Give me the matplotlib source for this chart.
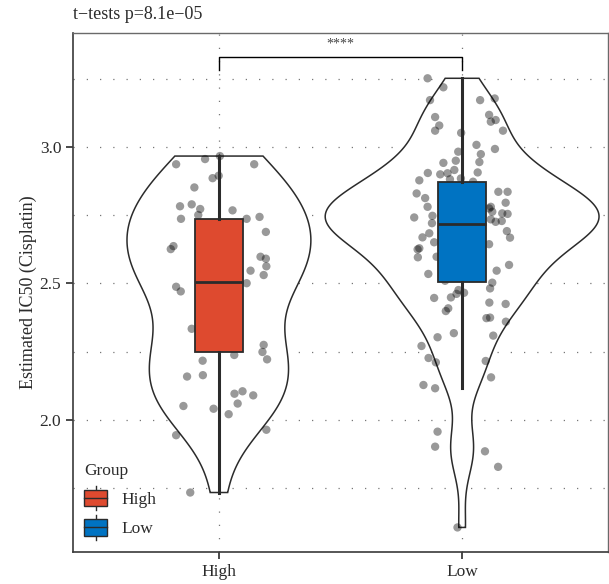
import numpy as np
import matplotlib
matplotlib.use("Agg")
import matplotlib.pyplot as plt
from matplotlib.patches import Rectangle, Patch
from matplotlib.lines import Line2D
from matplotlib.legend_handler import HandlerBase

plt.rcParams['font.family'] = ['Liberation Serif', 'DejaVu Serif']

# grupos
grupos = ['High', 'Low']
colores = ['#DE4A2F', '#0073C2']

# valores IC50 (visibles + los tapados por la caja)
high_vals = [2.937, 2.956, 2.967, 2.937, 2.886, 2.895, 2.852, 2.783, 2.790, 2.773,
             2.751, 2.737, 2.768, 2.737, 2.744, 2.689, 2.637, 2.626, 2.598, 2.591,
             2.563, 2.547, 2.531, 2.501, 2.488, 2.471, 2.334, 2.275, 2.249, 2.222,
             2.238, 2.217, 2.159, 2.164, 2.096, 2.105, 2.090, 2.060, 2.051, 2.041,
             2.021, 1.964, 1.944, 1.734,
             2.70, 2.64, 2.57, 2.52, 2.43, 2.41, 2.31, 2.27]
high_jit = [-0.176, -0.057, 0.004, 0.145, -0.026, -0.001, -0.101, -0.160, -0.112, -0.077,
            -0.085, -0.156, 0.056, 0.114, 0.167, 0.193, -0.187, -0.198, 0.171, 0.193,
            0.195, 0.130, 0.184, 0.114, -0.176, -0.157, -0.112, 0.184, 0.179, 0.198,
            0.063, -0.067, -0.131, -0.066, 0.064, 0.097, 0.141, 0.077, -0.146, -0.022,
            0.040, 0.195, -0.176, -0.118,
            0.05, -0.04, 0.02, -0.07, -0.01, 0.03, 0.06, -0.02]

low_vals = [3.252, 3.219, 3.172, 3.172, 3.178, 3.110, 3.079, 3.060, 3.118, 3.093,
            3.099, 3.060, 3.052, 3.008, 2.993, 2.983, 2.974, 2.942, 2.950, 2.945,
            2.916, 2.905, 2.900, 2.904, 2.907, 2.878, 2.882, 2.885, 2.873, 2.830,
            2.813, 2.836, 2.836, 2.796, 2.781, 2.781, 2.763, 2.742, 2.748, 2.757,
            2.755, 2.721, 2.775, 2.735, 2.726, 2.729, 2.692, 2.668, 2.684, 2.669,
            2.651, 2.644, 2.625, 2.629, 2.596, 2.598, 2.568, 2.547, 2.535, 2.503,
            2.482, 2.476, 2.466, 2.462, 2.449, 2.447, 2.430, 2.425, 2.409, 2.399,
            2.373, 2.375, 2.360, 2.318, 2.303, 2.309, 2.271, 2.227, 2.211, 2.216,
            2.156, 2.128, 2.116, 1.957, 1.902, 1.885, 1.828, 1.606,
            2.86, 2.85, 2.84, 2.82, 2.81, 2.80, 2.79, 2.77, 2.76, 2.75, 2.74, 2.73,
            2.71, 2.70, 2.69, 2.68, 2.67, 2.66, 2.65, 2.63, 2.61, 2.60, 2.58, 2.56,
            2.55, 2.53, 2.52, 2.51,
            2.78, 2.76, 2.74, 2.72]
low_jit = [-0.142, -0.077, -0.132, 0.074, 0.134, -0.111, -0.094, -0.111, 0.111, 0.118,
           0.138, 0.168, -0.004, 0.059, 0.135, -0.016, 0.077, -0.077, -0.026, 0.071,
           -0.032, -0.141, -0.090, -0.060, 0.064, -0.176, -0.050, -0.005, 0.045, -0.187,
           -0.152, 0.149, 0.187, 0.179, -0.142, 0.118, 0.124, -0.197, -0.122, 0.165,
           0.187, -0.124, 0.111, 0.118, 0.138, 0.163, 0.184, 0.197, -0.135, -0.163,
           -0.115, 0.111, -0.183, -0.176, -0.182, -0.105, 0.193, 0.142, -0.139, 0.124,
           0.115, -0.015, 0.008, -0.023, -0.046, -0.115, 0.112, 0.179, -0.057, -0.067,
           0.100, 0.115, 0.180, -0.034, -0.101, 0.128, -0.167, -0.138, -0.108, 0.097,
           0.119, -0.159, -0.111, -0.101, -0.111, 0.094, 0.148, -0.019,
           0.05, -0.04, 0.02, -0.07, 0.08, -0.01, 0.03, -0.05, 0.06, -0.02, 0.04, -0.08,
           0.01, 0.07, -0.03, 0.00, 0.05, -0.06, 0.02, -0.08, 0.07, -0.03, 0.04, -0.01,
           0.06, -0.05, 0.03, -0.07,
           -0.05, 0.06, -0.03, 0.02]

# estadisticos de la caja
q1 = [2.250, 2.505]
mediana = [2.505, 2.718]
q3 = [2.736, 2.872]
bigote_inf = [1.734, 2.116]
bigote_sup = [2.967, 3.252]

titulo = 't\u2212tests p=8.1e\u221205'
signif = '****'

EDGE = '#2b2b2b'


def kde_nrd0(x, grid):
    # densidad gaussiana con bw.nrd0 (como R)
    x = np.asarray(x)
    n = len(x)
    iqr = np.subtract(*np.percentile(x, [75, 25]))
    bw = 0.9 * min(np.std(x, ddof=1), iqr / 1.34) * n ** (-0.2)
    z = (grid[:, None] - x[None, :]) / bw
    return np.exp(-0.5 * z ** 2).sum(axis=1) / (n * bw * np.sqrt(2 * np.pi))


fig = plt.figure(figsize=(6.09, 5.84), dpi=100)
ax = fig.add_axes([0.1199, 0.0548, 0.8785, 0.8887])

datos = [high_vals, low_vals]
saltos = [high_jit, low_jit]

# violines (area, recortados al rango de los datos)
grids, dens = [], []
for v in datos:
    g = np.linspace(min(v), max(v), 512)
    grids.append(g)
    dens.append(kde_nrd0(v, g))
dmax = max(d.max() for d in dens)
for i, (g, d) in enumerate(zip(grids, dens)):
    pos = i + 1
    w = d / dmax * 0.563
    xs = np.concatenate([pos - w, (pos + w)[::-1], [pos - w[0]]])
    ys = np.concatenate([g, g[::-1], [g[0]]])
    ax.fill(xs, ys, facecolor='white', edgecolor=EDGE, lw=1.1, zorder=1)

# puntos con jitter
for i, (v, j) in enumerate(zip(datos, saltos)):
    ax.scatter(np.array(j) + i + 1, v, s=36, color='black', alpha=0.4,
               edgecolors='none', zorder=2)

# cajas
stats = []
for i in range(2):
    stats.append(dict(med=mediana[i], q1=q1[i], q3=q3[i],
                      whislo=bigote_inf[i], whishi=bigote_sup[i], fliers=[]))
bp = ax.bxp(stats, positions=[1, 2], widths=0.2, patch_artist=True,
            showcaps=False, showfliers=False,
            boxprops=dict(edgecolor=EDGE, lw=1.3),
            medianprops=dict(color=EDGE, lw=2),
            whiskerprops=dict(color=EDGE, lw=2.2), zorder=3)
for caja, c in zip(bp['boxes'], colores):
    caja.set_facecolor(c)

# corchete de significancia
yb, yl = 3.331, 3.282
ax.plot([1, 1, 2, 2], [yl, yb, yb, yl], color='black', lw=1, zorder=4)
ax.text(1.5, 3.355, signif, ha='center', va='bottom', fontsize=10, color='#444444')

ax.set_xlim(0.4, 2.6)
ax.set_ylim(1.516, 3.418)
ax.set_xticks([1, 2])
ax.set_xticklabels(grupos)
ax.set_yticks([2.0, 2.5, 3.0])
ax.set_yticks([1.75, 2.25, 2.75, 3.25], minor=True)
ax.tick_params(axis='both', which='major', labelsize=12.5, colors='#2b2b2b',
               length=5, width=1.2)
ax.tick_params(axis='y', which='minor', length=0)
ax.grid(which='both', axis='y', color='#777777', lw=0.9, linestyle=(0, (1, 9.6)))
ax.grid(which='major', axis='x', color='#777777', lw=0.9, linestyle=(0, (1, 9.6)))
ax.set_axisbelow(True)
for lado in ['top', 'right']:
    ax.spines[lado].set_color('#6a6a6a')
    ax.spines[lado].set_linewidth(1.0)
for lado in ['left', 'bottom']:
    ax.spines[lado].set_color('#3a3a3a')
    ax.spines[lado].set_linewidth(1.2)

ax.set_ylabel('Estimated IC50 (Cisplatin)', fontsize=13, color='#2b2b2b', labelpad=2)
ax.set_title(titulo, loc='left', fontsize=13, color='#2b2b2b', pad=10)


class BoxKey(HandlerBase):
    def create_artists(self, legend, orig_handle, xdescent, ydescent,
                       width, height, fontsize, trans):
        x0, y0 = -xdescent, -ydescent
        cx = x0 + width / 2
        bigote = Line2D([cx, cx], [y0 - 0.25 * height, y0 + 1.25 * height],
                        color=EDGE, lw=1, transform=trans)
        rect = Rectangle((x0, y0), width, height, facecolor=orig_handle.get_facecolor(),
                         edgecolor=EDGE, lw=1, transform=trans)
        med = Line2D([x0, x0 + width], [y0 + height / 2] * 2, color=EDGE, lw=1,
                     transform=trans)
        return [bigote, rect, med]


handles = [Patch(facecolor=c, label=g) for g, c in zip(grupos, colores)]
leg = ax.legend(handles=handles, title='Group', loc='lower left',
                bbox_to_anchor=(-0.009, -0.002), frameon=False, fontsize=12.5,
                title_fontsize=12.5, handlelength=1.35, handleheight=1.05,
                labelspacing=0.65, handletextpad=0.8, alignment='left',
                handler_map={Patch: BoxKey()})
for t in leg.get_texts():
    t.set_color('#2b2b2b')
leg.get_title().set_color('#2b2b2b')

fig.savefig('out.png', dpi=100)
